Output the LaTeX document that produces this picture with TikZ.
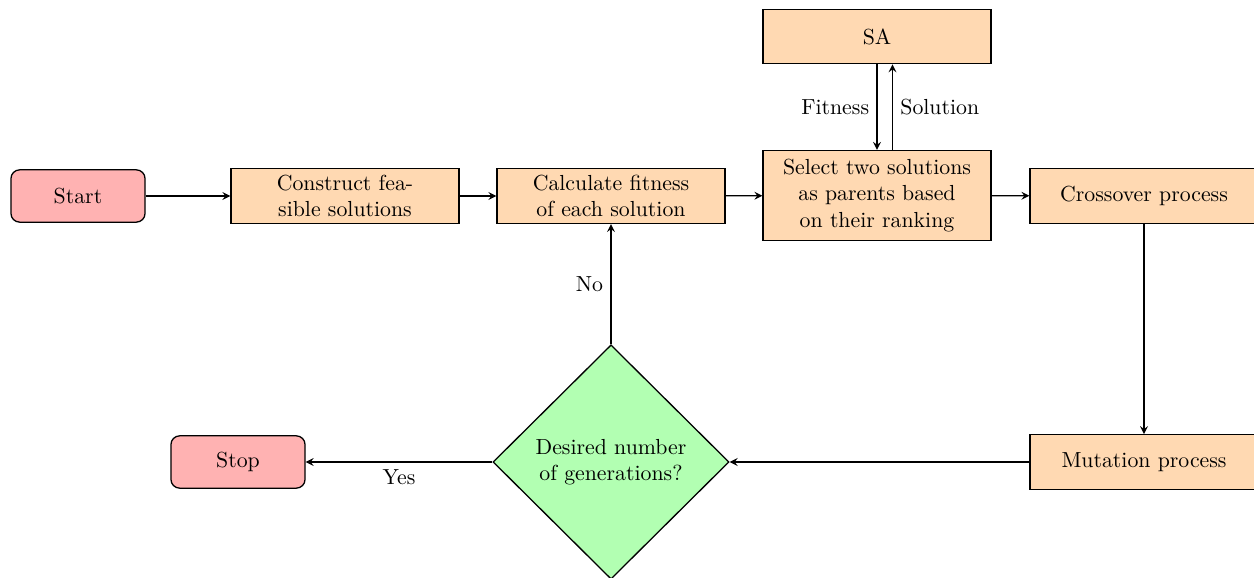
\documentclass[tikz,border=0pt]{standalone}
\usetikzlibrary{shapes.geometric,arrows}
\tikzset{
  startstop/.style={rectangle, rounded corners=4pt, draw=black, semithick, fill=red!30, minimum width=61.5pt, minimum height=24pt, inner sep=3pt, align=center},
  process/.style={rectangle, draw=black, semithick, fill=orange!30, minimum width=104.6pt, minimum height=25pt, inner sep=3pt, align=center},
  decision/.style={diamond, draw=black, semithick, fill=green!30, minimum width=108.3pt, minimum height=107.5pt, inner sep=0pt, align=center},
  arrow/.style={semithick, ->, >=stealth}
}
\begin{document}
\begin{tikzpicture}[x=0.4587pt, y=-0.4587pt]
\clip (0,0) rectangle (1254,578);
\node[startstop] (start) at (78,196) {Start};
\node[process] (construct) at (345,196) {Construct fea-\\sible solutions};
\node[process] (calc) at (611,196) {Calculate fitness\\of each solution};
\node[process, minimum height=41.3pt] (select) at (877,195.5) {Select two solutions\\as parents based\\on their ranking};
\node[process] (sa) at (877,36.5) {SA};
\node[process] (cross) at (1144,196) {Crossover process};
\node[process] (mut) at (1144,462) {Mutation process};
\node[decision] (dec) at (611,462) {Desired number\\of generations?};
\node[startstop] (stop) at (238,462) {Stop};

\draw[arrow] (start) -- (construct);
\draw[arrow] (construct) -- (calc);
\draw[arrow] (calc) -- (select);
\draw[arrow] (select) -- (cross);
\draw[arrow] (sa) -- node[left] {Fitness} (select);
\draw[arrow] ([xshift=7.1pt]select.north) -- node[right] {Solution} ([xshift=7.1pt]sa.south);
\draw[arrow] (cross) -- (mut);
\draw[arrow] (mut) -- (dec);
\draw[arrow] (dec) -- node[below] {Yes} (stop);
\draw[arrow] (dec) -- node[left] {No} (calc);
\end{tikzpicture}
\end{document}
